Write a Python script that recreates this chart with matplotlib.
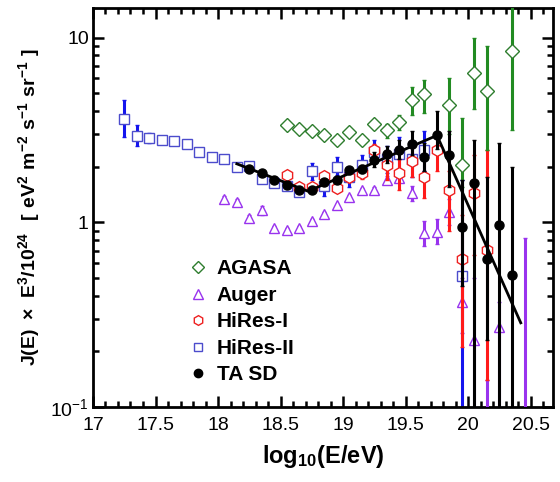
import matplotlib

matplotlib.use("Agg")
import matplotlib.pyplot as plt  # noqa: E402
from matplotlib.lines import Line2D  # noqa: E402
from matplotlib.ticker import FixedLocator, FuncFormatter, MultipleLocator  # noqa: E402

plt.rcParams["font.family"] = ["Liberation Sans", "DejaVu Sans"]
plt.rcParams["mathtext.fontset"] = "custom"
plt.rcParams["mathtext.rm"] = "Liberation Sans"
plt.rcParams["mathtext.bf"] = "Liberation Sans:bold"

# ---- data: log10(E/eV), flux value, lower/upper bar ends
hires2_x = [17.25, 17.35, 17.45, 17.55, 17.65, 17.75, 17.85, 17.95, 18.05, 18.15,
            18.25, 18.35, 18.45, 18.55, 18.65, 18.75, 18.85, 18.95, 19.05, 19.15,
            19.25, 19.35, 19.45, 19.55, 19.65, 19.95]
hires2_y = [3.63, 2.93, 2.87, 2.80, 2.74, 2.66, 2.40, 2.25, 2.21, 2.00,
            2.01, 1.72, 1.62, 1.57, 1.46, 1.89, 1.57, 2.00, 1.75, 2.03,
            2.40, 2.20, 2.35, 2.20, 2.45, 0.51]
hires2_lo = [2.88, 2.57, 2.70, 2.70, 2.66, 2.58, 2.33, 2.18, 2.14, 1.93,
             1.94, 1.65, 1.55, 1.49, 1.38, 1.70, 1.38, 1.80, 1.55, 1.80,
             2.10, 1.85, 1.90, 1.75, 1.90, 0.01]
hires2_hi = [4.56, 3.34, 3.05, 2.90, 2.82, 2.74, 2.48, 2.32, 2.28, 2.07,
             2.08, 1.79, 1.70, 1.65, 1.55, 2.10, 1.75, 2.25, 1.95, 2.30,
             2.80, 2.60, 2.90, 2.75, 3.10, 1.70]

auger_x = [18.05, 18.15, 18.25, 18.35, 18.45, 18.55, 18.65, 18.75, 18.85, 18.95,
           19.05, 19.15, 19.25, 19.35, 19.45, 19.55, 19.65, 19.75, 19.85, 19.95,
           20.05, 20.15, 20.25, 20.45]
auger_y = [1.34, 1.29, 1.05, 1.16, 0.925, 0.91, 0.925, 1.02, 1.11, 1.24,
           1.37, 1.49, 1.50, 1.70, 1.74, 1.43, 0.87, 0.89, 1.14, 0.37,
           0.23, 0.06, 0.27, 0.05]
auger_lo = [1.30, 1.25, 1.01, 1.10, 0.90, 0.89, 0.90, 1.00, 1.09, 1.22,
            1.34, 1.45, 1.45, 1.62, 1.64, 1.30, 0.74, 0.76, 0.96, 0.25,
            0.01, 0.01, 0.01, 0.01]
auger_hi = [1.38, 1.33, 1.09, 1.22, 0.95, 0.93, 0.95, 1.04, 1.13, 1.26,
            1.40, 1.53, 1.55, 1.78, 1.84, 1.56, 1.02, 1.04, 1.34, 0.50,
            0.50, 0.14, 0.37, 0.82]

hires1_x = [18.55, 18.65, 18.75, 18.85, 18.95, 19.05, 19.15, 19.25, 19.35, 19.45,
            19.55, 19.65, 19.75, 19.85, 19.95, 20.05, 20.15]
hires1_y = [1.80, 1.55, 1.55, 1.77, 1.53, 1.75, 1.85, 2.45, 2.03, 1.84,
            2.14, 1.75, 2.45, 1.49, 0.63, 1.44, 0.71]
hires1_lo = [1.74, 1.50, 1.49, 1.70, 1.45, 1.64, 1.72, 2.25, 1.70, 1.50,
             1.75, 1.35, 1.90, 0.90, 0.21, 0.66, 0.14]
hires1_hi = [1.86, 1.61, 1.61, 1.84, 1.61, 1.86, 1.98, 2.65, 2.40, 2.20,
             2.60, 2.20, 2.90, 1.90, 1.10, 2.30, 2.45]

agasa_x = [18.55, 18.65, 18.75, 18.85, 18.95, 19.05, 19.15, 19.25, 19.35, 19.45,
           19.55, 19.65, 19.85, 19.95, 20.05, 20.15, 20.35]
agasa_y = [3.34, 3.21, 3.12, 2.98, 2.80, 3.08, 2.80, 3.39, 3.14, 3.48,
           4.57, 4.96, 4.29, 2.03, 6.41, 5.13, 8.50]
agasa_lo = [3.25, 3.12, 3.02, 2.88, 2.70, 2.95, 2.66, 3.20, 2.85, 3.15,
            3.80, 3.90, 3.00, 1.55, 4.10, 2.45, 3.15]
agasa_hi = [3.43, 3.30, 3.22, 3.08, 2.90, 3.21, 2.94, 3.58, 3.40, 3.80,
            5.40, 5.90, 6.00, 3.65, 10.0, 9.00, 16.0]

tasd_x = [18.25, 18.35, 18.45, 18.55, 18.65, 18.75, 18.85, 18.95, 19.05, 19.15,
          19.25, 19.35, 19.45, 19.55, 19.65, 19.75, 19.85, 19.95, 20.05, 20.15,
          20.25, 20.35]
tasd_y = [1.95, 1.85, 1.70, 1.58, 1.49, 1.49, 1.65, 1.70, 1.91, 1.95,
          2.18, 2.35, 2.47, 2.66, 2.25, 2.95, 2.30, 0.94, 1.63, 0.63,
          0.96, 0.52]
tasd_lo = [1.90, 1.80, 1.65, 1.53, 1.44, 1.44, 1.59, 1.63, 1.82, 1.85,
           2.00, 2.10, 2.20, 2.30, 1.90, 2.50, 1.55, 0.45, 0.01, 0.23,
           0.01, 0.01]
tasd_hi = [2.00, 1.90, 1.75, 1.63, 1.54, 1.54, 1.71, 1.77, 2.00, 2.05,
           2.40, 2.60, 2.80, 3.10, 2.70, 4.00, 3.10, 1.70, 2.77, 1.75,
           2.70, 1.98]

# broken power-law fit to TA SD (straight segments in log-log)
fit_x = [18.15, 18.72, 19.75, 20.42]
fit_y = [2.07, 1.47, 2.95, 0.285]

x_ticks = [17, 17.5, 18, 18.5, 19, 19.5, 20, 20.5]
y_ticks = [0.1, 1, 10]


def _bars(y, lo, hi):
    return [[v - a for v, a in zip(y, lo)], [b - v for v, b in zip(y, hi)]]


def _series(axis, x, y, lo, hi, marker, face, edge, bar, ms, zorder):
    axis.errorbar(x, y, yerr=_bars(y, lo, hi), fmt=marker, ms=ms,
                  mfc=face, mec=edge, mew=1.0, ecolor=bar, elinewidth=2.2,
                  capsize=1.2, capthick=2.2, zorder=zorder)


def _y_label(v, _pos):
    if v == 0.1:
        return r"$\mathregular{10^{-1}}$"
    return "%g" % v


fig = plt.figure(figsize=(5.6, 4.82), dpi=100)
ax = fig.add_axes([0.166, 0.156, 0.822, 0.828])
ax.set_yscale("log")

_series(ax, hires2_x, hires2_y, hires2_lo, hires2_hi, "s", "white", "#4c4ccc", "#1515ee", 7, 2)
_series(ax, auger_x, auger_y, auger_lo, auger_hi, "^", "white", "#9933ee", "#9933ee", 7.5, 3)
_series(ax, hires1_x, hires1_y, hires1_lo, hires1_hi, "h", "white", "#ee2020", "#ff1a1a", 8.5, 4)
_series(ax, agasa_x, agasa_y, agasa_lo, agasa_hi, "D", "white", "#2e7d2e", "#228b22", 7, 5)
_series(ax, tasd_x, tasd_y, tasd_lo, tasd_hi, "o", "black", "black", "black", 6.5, 6)
ax.plot(fit_x, fit_y, color="black", lw=2.0, zorder=7)

ax.set_xlim(17, 20.68)
ax.set_ylim(0.1, 14.5)
ax.xaxis.set_major_locator(FixedLocator(x_ticks))
ax.xaxis.set_major_formatter(FuncFormatter(lambda v, _p: "%g" % v))
ax.xaxis.set_minor_locator(MultipleLocator(0.1))
ax.yaxis.set_major_locator(FixedLocator(y_ticks))
ax.yaxis.set_major_formatter(FuncFormatter(_y_label))
ax.tick_params(which="both", direction="in", top=True, right=True, width=1.8,
               labelsize=14)
ax.tick_params(which="major", length=8)
ax.tick_params(which="minor", length=4)
ax.tick_params(axis="x", pad=7)
ax.tick_params(axis="y", pad=3)
for spine in ax.spines.values():
    spine.set_linewidth(2.0)

ax.set_xlabel(r"$\mathbf{log_{10}(E/eV)}$", fontsize=17, labelpad=7)
ax.set_ylabel(r"$\mathbf{J(E)\ \times\ E^{3}/10^{24}\ \ [\ eV^{2}\ m^{-2}\ s^{-1}\ sr^{-1}\ ]}$",
              fontsize=14, labelpad=6)

# legend shows only the markers, as in the reference
handles = [
    Line2D([], [], ls="none", marker="D", ms=6, mfc="white", mec="#2e7d2e"),
    Line2D([], [], ls="none", marker="^", ms=6.5, mfc="white", mec="#9933ee"),
    Line2D([], [], ls="none", marker="h", ms=7, mfc="white", mec="#ee2020"),
    Line2D([], [], ls="none", marker="s", ms=6, mfc="white", mec="#4c4ccc"),
    Line2D([], [], ls="none", marker="o", ms=6, mfc="black", mec="black"),
]
labels = ["AGASA", "Auger", "HiRes-I", "HiRes-II", "TA SD"]
ax.legend(handles, labels, loc="upper left", bbox_to_anchor=(0.19, 0.39),
          frameon=False, handlelength=0.9, handletextpad=0.45, labelspacing=0.36,
          borderaxespad=0, prop={"size": 15, "weight": "bold"})

fig.savefig("out.png", dpi=100)
